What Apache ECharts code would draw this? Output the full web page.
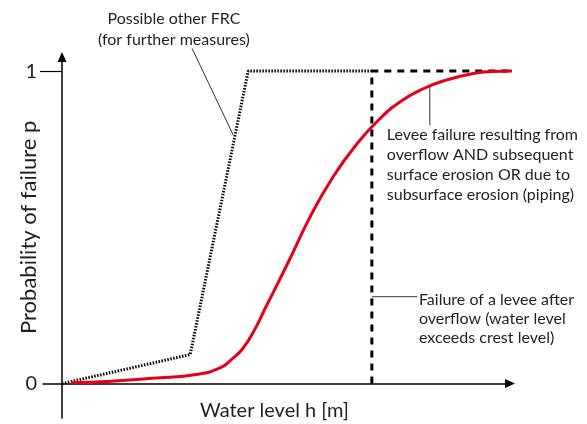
<!DOCTYPE html>
<html><head><meta charset="utf-8">
<script src="https://cdn.jsdelivr.net/npm/echarts@6/dist/echarts.min.js"></script>
<style>html,body{margin:0;padding:0;background:#fff}#chart{width:587px;height:424px}</style>
</head><body><div id="chart"></div>
<script>
// Fragility curves (FRC): probability of failure p against water level h (relative units)
const leveeCurveH = [0.2, 1, 2, 3, 3.5, 3.75, 4, 4.25, 4.5, 5, 5.5, 6, 6.5, 7, 7.5, 8, 8.5, 9, 9.5, 10];
const leveeCurveP = [0.003, 0.007, 0.017, 0.03, 0.051, 0.078, 0.114, 0.172, 0.245, 0.39, 0.54, 0.665, 0.765, 0.845, 0.905, 0.945, 0.972, 0.99, 0.999, 1];
const otherFrcH = [0, 2.83, 4.11, 6.84];
const otherFrcP = [0, 0.093, 1, 1];
const overflowH = [6.84, 6.84, 10];
const overflowP = [0, 1, 1];
const yLabelValues = [0, 1];
const yTickValues = [1];

// Leader lines from each note to its curve
const leaderFrc = [[2.87, 1.073], [3.78, 0.795]];
const leaderLevee = [[8.12, 0.952], [8.12, 0.827]];
const leaderOverflow = [[6.84, 0.278], [7.84, 0.278]];

const notes = [
  { text: 'Possible other FRC\n(for further measures)', at: [2.47, 1.2], align: 'center', lineHeight: 21 },
  { text: 'Levee failure resulting from\noverflow AND subsequent\nsurface erosion OR due to\nsubsurface erosion (piping)', at: [7.17, 0.827], align: 'left', lineHeight: 20 },
  { text: 'Failure of a levee after\noverflow (water level\nexceeds crest level)', at: [7.88, 0.299], align: 'left', lineHeight: 19 }
];

// Axis titles, anchored in value space
const axisTitles = [
  { text: 'Water level h [m]', at: [4.69, -0.086], rotation: 0, size: 20 },
  { text: 'Probability of failure p', at: [-0.73, 0.5], rotation: Math.PI / 2, size: 22 }
];

const FONT = 'Lato, "Open Sans", sans-serif';
const INK = '#231f20';
const zip = (a, b) => a.map((v, i) => [v, b[i]]);

const chart = echarts.init(document.getElementById('chart'), null, { renderer: 'canvas' });

const leader = (data) => ({
  type: 'line', data, symbol: 'none', clip: false, silent: true, z: 1,
  lineStyle: { color: '#333', width: 1 }
});

chart.setOption({
  animation: false,
  backgroundColor: '#fff',
  grid: { left: 43, right: 77, top: 57, bottom: 6, containLabel: false, outerBoundsMode: 'none' },
  xAxis: {
    type: 'value', min: -0.42, max: 9.89,
    axisLine: { onZero: true, symbol: ['none', 'triangle'], symbolSize: [9, 10], lineStyle: { color: '#000', width: 1.5 } },
    axisTick: { show: false }, axisLabel: { show: false }, splitLine: { show: false }
  },
  yAxis: {
    type: 'value', min: -0.11, max: 1.045,
    axisLine: { onZero: true, symbol: ['none', 'triangle'], symbolSize: [9, 10], lineStyle: { color: '#000', width: 1.5 } },
    axisTick: { show: true, customValues: yTickValues, length: 22, lineStyle: { color: '#000', width: 1.2 } },
    axisLabel: { customValues: yLabelValues, margin: 6, fontFamily: FONT, fontSize: 20, color: INK },
    splitLine: { show: false }
  },
  series: [
    {
      type: 'line', data: zip(otherFrcH, otherFrcP), symbol: 'none', clip: false, z: 3,
      lineStyle: { color: '#000', width: 3, type: [1.5, 1.5], cap: 'butt' }
    },
    {
      type: 'line', data: zip(overflowH, overflowP), symbol: 'none', clip: false, z: 2,
      lineStyle: { color: '#000', width: 3, type: [7, 6], cap: 'butt' }
    },
    {
      type: 'line', data: zip(leveeCurveH, leveeCurveP), symbol: 'none', clip: false, smooth: 0.5, z: 4,
      lineStyle: { color: '#e3001b', width: 3 }
    },
    leader(leaderFrc), leader(leaderLevee), leader(leaderOverflow)
  ]
});

// Place note texts and axis titles at their anchor values
const noteGraphics = notes.map(n => {
  const p = chart.convertToPixel({ gridIndex: 0 }, n.at);
  return {
    type: 'text', x: p[0], y: p[1], z: 10, silent: true,
    style: {
      text: n.text, fill: INK, fontFamily: FONT, fontSize: 16,
      lineHeight: n.lineHeight, align: n.align, verticalAlign: 'top'
    }
  };
});
const titleGraphics = axisTitles.map(t => {
  const p = chart.convertToPixel({ gridIndex: 0 }, t.at);
  return {
    type: 'text', x: p[0], y: p[1], rotation: t.rotation, z: 10, silent: true,
    style: { text: t.text, fill: INK, fontFamily: FONT, fontSize: t.size, align: 'center', verticalAlign: 'middle' }
  };
});
chart.setOption({ graphic: noteGraphics.concat(titleGraphics) });
</script></body></html>
